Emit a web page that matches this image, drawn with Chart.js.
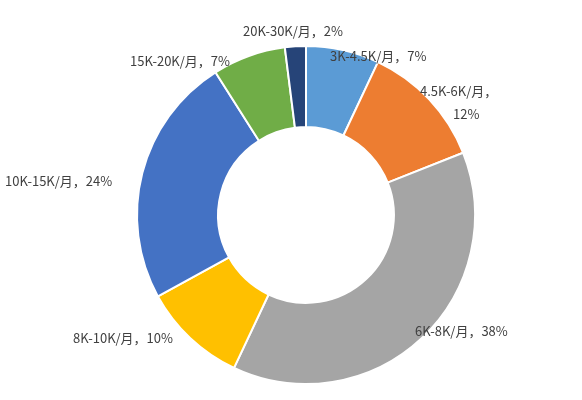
<!DOCTYPE html>
<html><head><meta charset="utf-8">
<script src="https://cdn.jsdelivr.net/npm/chart.js@4"></script>
<style>html,body{margin:0;padding:0;background:#fff}#w{width:582px;height:400px}</style>
</head><body><div id="w"><canvas id="c"></canvas></div>
<script>
const categories = ["3K-4.5K/月","4.5K-6K/月","6K-8K/月","8K-10K/月","10K-15K/月","15K-20K/月","20K-30K/月"];
const values = [7,12,38,10,24,7,2];
const colors = ["#5B9BD5","#ED7D31","#A5A5A5","#FFC000","#4472C4","#70AD47","#264478"];
// label anchor points (text layout only), [x, y, align]
const labelPos = [[330,56,"left"],[420,91,"left"],[415,331,"left"],[73,338,"left"],[5,181,"left"],[130,61,"left"],[243,31,"left"]];
const labelPlugin = {
  id:'lbl',
  afterDraw(chart){
    const ctx = chart.ctx;
    ctx.save();
    ctx.font = '13px "Noto Sans CJK SC", sans-serif';
    ctx.fillStyle = '#404040';
    ctx.textBaseline = 'middle';
    categories.forEach((c,i)=>{
      const [x,y,a] = labelPos[i];
      ctx.textAlign = a;
      if(i===1){
        ctx.fillText(c+'，',x,y);
        ctx.fillText(values[i]+'%',x+33,y+23);
      } else {
        ctx.fillText(c+'，'+values[i]+'%',x,y);
      }
    });
    ctx.restore();
  }
};
new Chart(document.getElementById('c'),{
  type:'doughnut',
  data:{labels:categories,datasets:[{data:values,backgroundColor:colors,borderColor:'#fff',borderWidth:2}]},
  options:{
    responsive:true,maintainAspectRatio:false,animation:false,cutout:'52%',
    layout:{padding:{top:45,bottom:15,left:30,right:0}},
    plugins:{legend:{display:false},tooltip:{enabled:false}}
  },
  plugins:[labelPlugin]
});
</script></body></html>
